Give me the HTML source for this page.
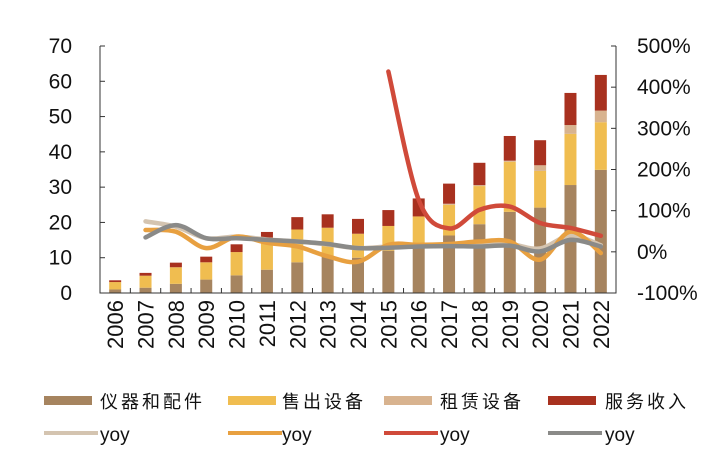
<!DOCTYPE html>
<html><head><meta charset="utf-8"><style>
body{margin:0;background:#fff;}
svg{display:block;font-family:"Liberation Sans","Noto Sans CJK SC",sans-serif;}
</style></head><body>
<svg id="chart" width="728" height="473" viewBox="0 0 728 473" xmlns="http://www.w3.org/2000/svg">
<g id="bars"></g>
<g id="lines"></g>
<g id="axes"></g>
<g id="legend"></g>
</svg>
<script>
const years=["2006","2007","2008","2009","2010","2011","2012","2013","2014","2015","2016","2017","2018","2019","2020","2021","2022"];
const instruments=[1.0,1.5,2.6,3.8,5.0,6.6,8.7,10.5,10.0,12.0,13.5,16.3,19.5,23.0,24.2,30.6,34.9];
const salesEq=[2.1,3.4,4.7,4.9,6.6,9.1,9.3,8.0,6.8,7.0,8.2,8.7,10.8,14.2,10.4,14.5,13.5];
const rentalEq=[0,0,0,0,0,0,0,0,0,0,0,0.3,0.3,0.3,1.6,2.5,3.3];
const service=[0.5,0.8,1.3,1.6,2.2,1.6,3.5,3.8,4.2,4.5,5.1,5.7,6.3,7.0,7.1,9.1,10.1];
const yoyRental=[null,74,61,33,37,30,25,18,9,13,16,16,17,19,8,40,16];
const yoySales=[null,53,49,9,37,22,13,-11,-24,17,17,19,25,25,-19,49,-3];
const yoyService=[null,null,null,null,null,null,null,null,null,438,126,57,102,110,70,58,39];
const yoyTotal=[null,35,65,33,33,29,25,19,9,10,13,14,13,15,1,29,13];
const leftTicks=["0","10","20","30","40","50","60","70"];
const rightTicks=["-100%","0%","100%","200%","300%","400%","500%"];

const NS="http://www.w3.org/2000/svg";
const X0=100,X1=616,Y0=293,Y1=46;
const band=(X1-X0)/years.length;
const xc=i=>X0+band*(i+0.5);
const yL=v=>Y0-(v/70)*(Y0-Y1);
const yR=p=>Y0-((p+100)/600)*(Y0-Y1);
function mk(tag,attrs,parent){const e=document.createElementNS(NS,tag);for(const k in attrs)e.setAttribute(k,attrs[k]);parent.appendChild(e);return e;}

const bars=document.getElementById('bars');
const series=[[instruments,"#a6845f","instruments"],[salesEq,"#f0bd50","sales-equipment"],[rentalEq,"#d8b38f","rental-equipment"],[service,"#a8311f","service-revenue"]];
const bw=12;
years.forEach((yr,i)=>{
  let acc=0;
  series.forEach(([arr,col,nm])=>{
    const v=arr[i];if(!v)return;
    const r=mk('rect',{x:xc(i)-bw/2,y:yL(acc+v),width:bw,height:yL(acc)-yL(acc+v),fill:col},bars);
    
    
    acc+=v;
  });
});

const lines=document.getElementById('lines');
function smooth(pts){
  let d="M"+pts[0][0]+","+pts[0][1];
  for(let i=0;i<pts.length-1;i++){
    const p0=pts[i-1]||pts[i],p1=pts[i],p2=pts[i+1],p3=pts[i+2]||p2;
    const c1=[p1[0]+(p2[0]-p0[0])/6,p1[1]+(p2[1]-p0[1])/6];
    const c2=[p2[0]-(p3[0]-p1[0])/6,p2[1]-(p3[1]-p1[1])/6];
    d+=" C"+c1+" "+c2+" "+p2;
  }
  return d;
}
const ys=[[yoyRental,"#d4c4b0","yoy-rental-line"],[yoySales,"#e8a040","yoy-sales-line"],[yoyService,"#d04a3a","yoy-service-line"],[yoyTotal,"#8a8a88","yoy-total-line"]];
ys.forEach(([arr,col,nm])=>{
  const pts=[];arr.forEach((v,i)=>{if(v!==null)pts.push([xc(i),yR(v)]);});
  const p=mk('path',{d:smooth(pts),fill:"none",stroke:col,"stroke-width":4.5,"stroke-linecap":"round","stroke-linejoin":"round"},lines);
  
  
});

const axes=document.getElementById('axes');
mk('path',{d:`M${X0},${Y1}V${Y0}H${X1}V${Y1}`,fill:"none",stroke:"#333","stroke-width":1},axes);
leftTicks.forEach((t,i)=>{
  const y=yL(i*10);
  mk('line',{x1:X0,x2:X0+5,y1:y,y2:y,stroke:"#333"},axes);
  const tx=mk('text',{x:72,y:y+7,"text-anchor":"end","font-size":21,fill:"#111"},axes);
  tx.textContent=t;
  
  
});
rightTicks.forEach((t,i)=>{
  const y=yR(-100+i*100);
  mk('line',{x1:X1-5,x2:X1,y1:y,y2:y,stroke:"#333"},axes);
  const tx=mk('text',{x:637,y:y+7,"font-size":21,fill:"#111"},axes);
  tx.textContent=t;
  
  
});
years.forEach((yr,i)=>{
  const x=X0+band*(i+1);
  mk('line',{x1:x,x2:x,y1:Y0,y2:Y0-5,stroke:"#333"},axes);
  const tx=mk('text',{x:0,y:0,"font-size":22,fill:"#111","text-anchor":"end",transform:`translate(${xc(i)+8},${Y0+7}) rotate(-90)`},axes);
  tx.textContent=yr;
  
  
});

const legend=document.getElementById('legend');
const leg1=[["仪器和配件","#a6845f",44,100],["售出设备","#f0bd50",228,282],["租赁设备","#d8b38f",384,440],["服务收入","#a8311f",548,605]];
leg1.forEach(([t,c,rx,tx])=>{
  const r=mk('rect',{x:rx,y:396,width:48,height:9,fill:c},legend);
  
  
  const e=mk('text',{x:tx,y:408,"font-size":18,fill:"#111","letter-spacing":3},legend);
  e.textContent=t;
  
  
});
const leg2=[["#d4c4b0",44,100],["#e8a040",228,282],["#d04a3a",384,440],["#8a8a88",548,605]];
leg2.forEach(([c,rx,tx])=>{
  const l=mk('line',{x1:rx,x2:rx+54,y1:433,y2:433,stroke:c,"stroke-width":4},legend);
  
  
  const e=mk('text',{x:tx,y:441,"font-size":19,fill:"#111"},legend);
  e.textContent="yoy";
  
  
});
</script>
</body></html>
